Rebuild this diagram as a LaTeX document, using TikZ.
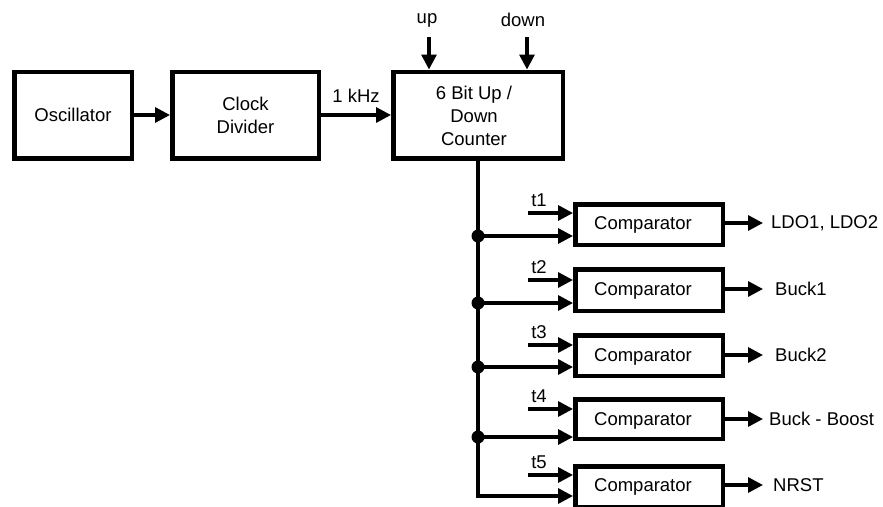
\documentclass[tikz,border=0pt]{standalone}
\usepackage{fontspec}
\setmainfont{Liberation Sans}
\usetikzlibrary{arrows.meta}
\begin{document}
\begin{tikzpicture}[x=1pt,y=-1pt,
  box/.style={draw,line width=4.5pt,rectangle,inner sep=0pt,align=center},
  wire/.style={line width=3.3pt},
  arr/.style={wire,-{Triangle[length=15pt,width=15pt]}},
  txt/.style={inner sep=0pt,align=center},
  dotnode/.style={circle,fill,inner sep=0pt,minimum size=13pt},
  every node/.style={font=\fontsize{18.5}{23}\selectfont}]
\useasboundingbox (0,0) rectangle (883,506);
% top row
\node[box,minimum width=117.5pt,minimum height=86.5pt] (osc) at (73,115) {Oscillator};
\node[box,minimum width=146.5pt,minimum height=86.5pt] (clk) at (245.5,115) {Clock\\Divider};
\node[box,minimum width=169.5pt,minimum height=86.5pt] (cnt) at (478,115) {};
\node[txt] (cnttext) at (474,115.5) {6 Bit Up /\\Down\\Counter};
\draw[arr] (osc) -- (clk);
\draw[arr] (clk) -- node[txt,above=11pt] (khz) {1 kHz} (cnt);
\coordinate (upstart) at (429,37);
\coordinate (downstart) at (527,37);
\node[txt] (uplbl) at (427,20) {up};
\node[txt] (downlbl) at (523,20) {down};
\draw[arr] (upstart) -- (upstart |- cnt.north);
\draw[arr] (downstart) -- (downstart |- cnt.north);
% comparators: index / top / bottom / t-line / lower input / output / label / label x
\foreach \i/\Top/\Bot/\Ty/\Ly/\Oy/\lab/\lx in {
  1/202/247/213/236/223/{LDO1, LDO2}/771,
  2/267/313/280/303/289/Buck1/775,
  3/333/378/345/367/355/Buck2/775,
  4/397/441/409/437/419/{Buck - Boost}/769,
  5/464/509/475/496/485/NRST/773}{
  \pgfmathsetmacro{\H}{\Bot-\Top-4.5}
  \node[box,minimum width=147.5pt,minimum height=\H pt] (c\i) at (649,{(\Top+\Bot)/2}) {};
  \node[txt] (ct\i) at (643,\Oy+1.5) {Comparator};
  \coordinate (ta\i) at (528,\Ty);
  \coordinate (tb\i) at (478,\Ly);
  \node[txt] (tl\i) at (539,\Ty-13) {t\i};
  \draw[arr] (ta\i) -- (ta\i -| c\i.west);
  \coordinate (out\i) at (763,\Oy);
  \draw[arr] (out\i -| c\i.east) -- (out\i);
  \node[txt,anchor=west] (ol\i) at (\lx,\Oy) {\lab};
}
\foreach \i in {1,2,3,4}{
  \node[dotnode] (d\i) at (tb\i) {};
  \draw[arr] (tb\i) -- (tb\i -| c\i.west);
}
\draw[arr] (cnt.south) -- (tb5) -- (tb5 -| c5.west);
\end{tikzpicture}
\end{document}
